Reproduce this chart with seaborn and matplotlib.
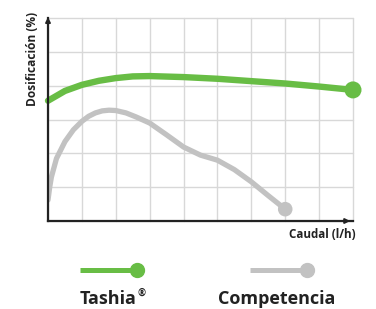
import matplotlib
matplotlib.use("Agg")
import matplotlib.pyplot as plt
import seaborn as sns
import pandas as pd
from matplotlib.lines import Line2D

# ---- data ----
series_names = ["Tashia", "Competencia"]
trademark = "®"
tashia_x = [0, 0.5, 1, 1.5, 2, 2.5, 3, 4, 5, 6, 7, 8, 9]
tashia_y = [3.56, 3.85, 4.03, 4.15, 4.23, 4.28, 4.29, 4.26, 4.21, 4.14, 4.07, 3.98, 3.88]
comp_x = [0, 0.05, 0.1, 0.25, 0.5, 0.75, 1, 1.2, 1.4, 1.6, 1.8, 2.0, 2.3, 2.6, 3, 3.5, 4, 4.5, 5, 5.5, 6, 6.5, 7]
comp_y = [0.62, 1.0, 1.3, 1.85, 2.35, 2.7, 2.95, 3.1, 3.2, 3.26, 3.28, 3.27, 3.2, 3.08, 2.9, 2.55, 2.19, 1.95, 1.8, 1.52, 1.16, 0.75, 0.35]
x_label = "Caudal (l/h)"
y_label = "Dosificación (%)"
x_ticks = list(range(0, 10))
y_ticks = list(range(0, 7))

green = "#68bd45"
gray = "#c2c2c2"

sns.set_theme(style="white")
plt.rcParams["font.family"] = ["Open Sans", "DejaVu Sans"]

fig = plt.figure(figsize=(3.76, 3.09), dpi=100)
ax = fig.add_axes([48 / 376, 1 - 221 / 309, (353 - 48) / 376, (221 - 18.3) / 309])

df_t = pd.DataFrame({"x": tashia_x, "y": tashia_y})
df_c = pd.DataFrame({"x": comp_x, "y": comp_y})

sns.lineplot(data=df_c, x="x", y="y", sort=False, color=gray, lw=3.8, ax=ax,
             solid_capstyle="round", solid_joinstyle="round", zorder=3)
sns.lineplot(data=df_t, x="x", y="y", sort=False, color=green, lw=4.6, ax=ax,
             solid_capstyle="round", solid_joinstyle="round", zorder=4, clip_on=False)
sns.scatterplot(data=df_c.tail(1), x="x", y="y", color=gray, s=110, ax=ax,
                edgecolor="none", zorder=5, clip_on=False)
sns.scatterplot(data=df_t.tail(1), x="x", y="y", color=green, s=150, ax=ax,
                edgecolor="none", zorder=5, clip_on=False)

ax.set_xlim(0, 9)
ax.set_ylim(0, 6)
ax.set_xticks(x_ticks)
ax.set_yticks(y_ticks)
ax.tick_params(length=0, labelbottom=False, labelleft=False)
ax.grid(True, color="#d8d8d8", lw=1.0)
for gl in ax.get_xgridlines() + ax.get_ygridlines():
    gl.set_clip_on(False)
ax.set_xlabel("")
ax.set_ylabel("")
for s in ["top", "right"]:
    ax.spines[s].set_visible(False)
for s in ["left", "bottom"]:
    ax.spines[s].set_color("#222222")
    ax.spines[s].set_linewidth(1.6)
    ax.spines[s].set_zorder(6)

# arrows
ax.annotate("", xy=(9.0, 0), xytext=(8.7, 0), xycoords="data",
            arrowprops=dict(arrowstyle="-|>", color="#222222", lw=1.4, mutation_scale=7),
            annotation_clip=False)
ax.annotate("", xy=(0, 6.12), xytext=(0, 5.8), xycoords="data",
            arrowprops=dict(arrowstyle="-|>", color="#222222", lw=1.4, mutation_scale=7),
            annotation_clip=False)

fig.text(356 / 376, 1 - 235 / 309, x_label, ha="right", va="center",
         fontsize=8.4, fontweight="bold", color="#222222")
fig.text(33 / 376, 1 - 59 / 309, y_label, ha="center", va="center", rotation=90,
         fontsize=8.6, fontweight="bold", color="#222222")

# legend
leg_y = 1 - 270 / 309
fig.add_artist(Line2D([80 / 376, 137 / 376], [leg_y, leg_y], color=green, lw=3.6,
                      marker="o", markevery=[1], markersize=10, solid_capstyle="butt"))
fig.add_artist(Line2D([250 / 376, 307 / 376], [leg_y, leg_y], color=gray, lw=3.6,
                      marker="o", markevery=[1], markersize=10, solid_capstyle="butt"))
fig.text(80 / 376, 1 - 299 / 309, series_names[0], ha="left", va="center",
         fontsize=13, fontweight="bold", color="#222222")
fig.text(138 / 376, 1 - 293 / 309, trademark, ha="left", va="center",
         fontsize=7, fontweight="bold", color="#222222")
fig.text(277 / 376, 1 - 299 / 309, series_names[1], ha="center", va="center",
         fontsize=13, fontweight="bold", color="#222222")

fig.savefig("out.png", dpi=100, facecolor="white")
